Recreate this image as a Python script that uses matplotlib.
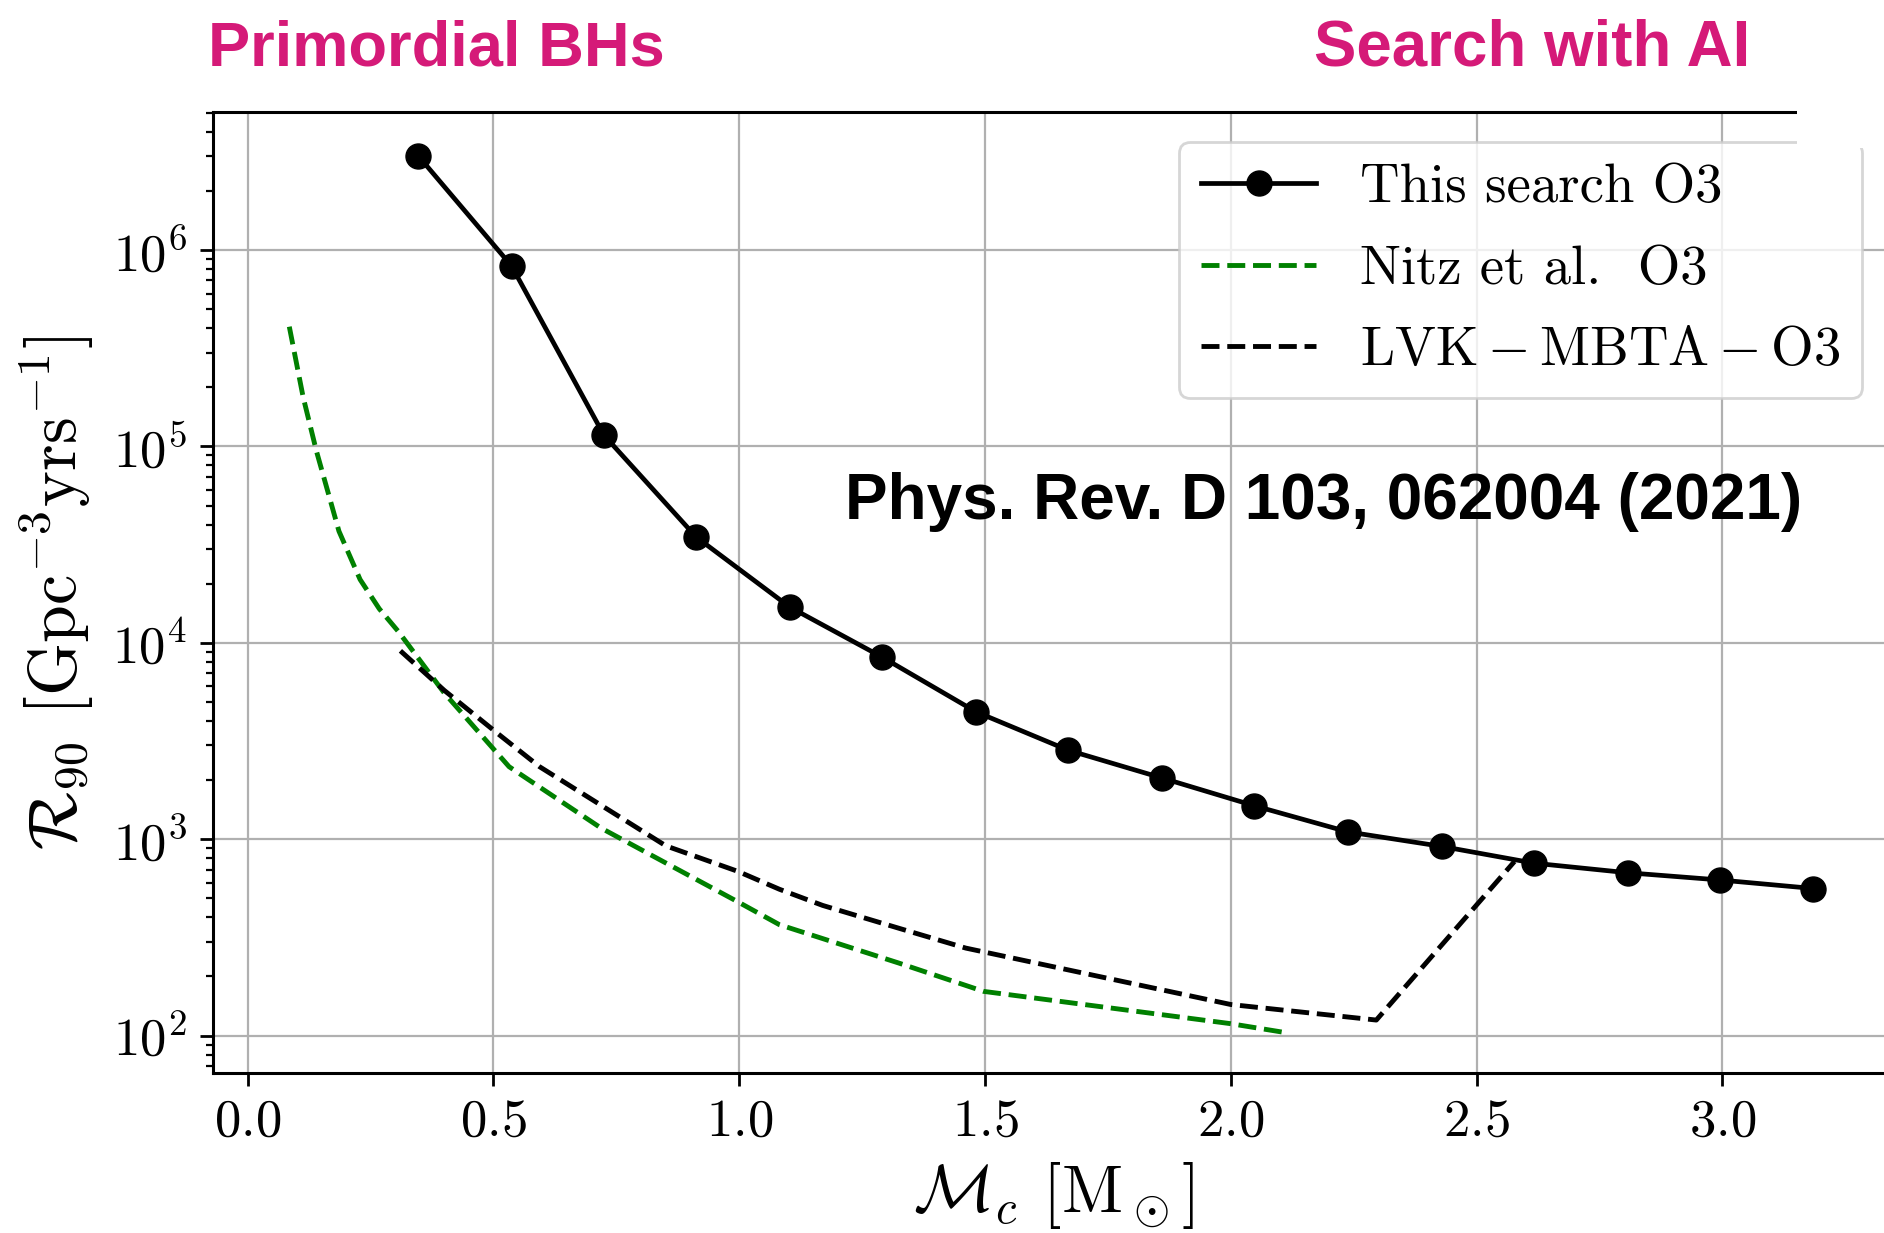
import matplotlib
matplotlib.use("Agg")
import matplotlib.pyplot as plt
from matplotlib.patches import Rectangle

plt.rcParams['font.family'] = 'serif'
plt.rcParams['font.serif'] = ['cmr10']
plt.rcParams['mathtext.fontset'] = 'cm'
plt.rcParams['axes.formatter.use_mathtext'] = True

# chirp mass [Msun] and 90% rate upper limits [Gpc^-3 yr^-1]
mc_search = [0.347, 0.537, 0.725, 0.913, 1.103, 1.291, 1.482, 1.669,
             1.860, 2.048, 2.238, 2.429, 2.617, 2.807, 2.995, 3.185]
r90_search = [3.02e6, 8.3e5, 1.14e5, 3.45e4, 1.52e4, 8.45e3, 4.45e3, 2.84e3,
              2.05e3, 1.48e3, 1.09e3, 919, 755, 675, 620, 561]

mc_nitz = [0.085, 0.113, 0.140, 0.186, 0.229, 0.268, 0.307, 0.400,
           0.532, 0.719, 0.998, 1.082, 1.325, 1.497, 2.0, 2.107]
r90_nitz = [4.07e5, 1.79e5, 9.5e4, 3.7e4, 2.1e4, 1.49e4, 1.14e4, 5.56e3,
            2.34e3, 1.14e3, 479, 367, 234, 168, 115, 104]

mc_lvk = [0.311, 0.400, 0.509, 0.594, 0.851, 0.998, 1.082, 1.17,
          1.325, 1.461, 2.0, 2.296, 2.577]
r90_lvk = [9.1e3, 5.73e3, 3.45e3, 2.34e3, 925, 685, 556, 460,
           352, 279, 144, 120, 770]

labels = ['This search O3', 'Nitz et al.  O3', r'$\rm LVK-MBTA-O3$']
pink = '#D51A78'

fig = plt.figure(figsize=(18.84, 12.33), dpi=100)
ax = fig.add_axes([0.11306, 0.12976, 0.89225, 0.77940])

ax.plot(mc_search, r90_search, 'k-', marker='o', lw=3.4, ms=18, label=labels[0])
ax.plot(mc_nitz, r90_nitz, '--', color='green', lw=3.5, label=labels[1])
ax.plot(mc_lvk, r90_lvk, 'k--', lw=3.5, label=labels[2])

ax.set_yscale('log')
ax.set_xlim(-0.0702, 3.349)
ax.set_ylim(10**1.8096, 10**6.7026)
ax.set_xticks([0.0, 0.5, 1.0, 1.5, 2.0, 2.5, 3.0])
ax.grid(True, which='major', color='#b0b0b0', lw=1.6)

ax.tick_params(which='major', length=9.4, width=2.0, pad=9.4, labelsize=38)
ax.tick_params(which='minor', length=5.4, width=1.6)
for s in ['left', 'bottom', 'top']:
    ax.spines[s].set_linewidth(2.2)
ax.spines['right'].set_visible(False)
ax.spines['top'].set_bounds(-0.0702, 3.152)

ax.set_xlabel(r'$\mathcal{M}_c$ $[\mathrm{M}_\odot]$', fontsize=48, labelpad=10)
ax.set_ylabel(r'$\mathcal{R}_{90}$ $[\mathrm{Gpc}^{-3}\mathrm{yrs}^{-1}]$', fontsize=49, labelpad=12)

leg = ax.legend(loc='upper right', bbox_to_anchor=(1862 / 1884, 1 - 142 / 1233),
                bbox_transform=fig.transFigure, borderaxespad=0, fontsize=39.4,
                handlelength=2.1, labelspacing=0.58, fancybox=True, framealpha=0.8)
leg.get_frame().set_linewidth(2.0)
leg.get_frame().set_edgecolor('#cccccc')

# white patch covering the cropped top-right corner
fig.add_artist(Rectangle((1797 / 1884, 1 - 148 / 1233), 1, 1, transform=fig.transFigure,
                         facecolor='white', edgecolor='none', zorder=10))

fig.text(208 / 1884, 1 - 66 / 1233, 'Primordial BHs', ha='left', va='baseline',
         fontsize=45.5, fontweight='bold', family='Liberation Sans', color=pink)
fig.text(1750 / 1884, 1 - 66 / 1233, 'Search with AI', ha='right', va='baseline',
         fontsize=45.8, fontweight='bold', family='Liberation Sans', color=pink)
fig.text(845 / 1884, 1 - 519 / 1233, 'Phys. Rev. D 103, 062004 (2021)', ha='left', va='baseline',
         fontsize=46, fontweight='bold', family='Liberation Sans', color='black', zorder=10)

fig.savefig('out.png', dpi=100)
